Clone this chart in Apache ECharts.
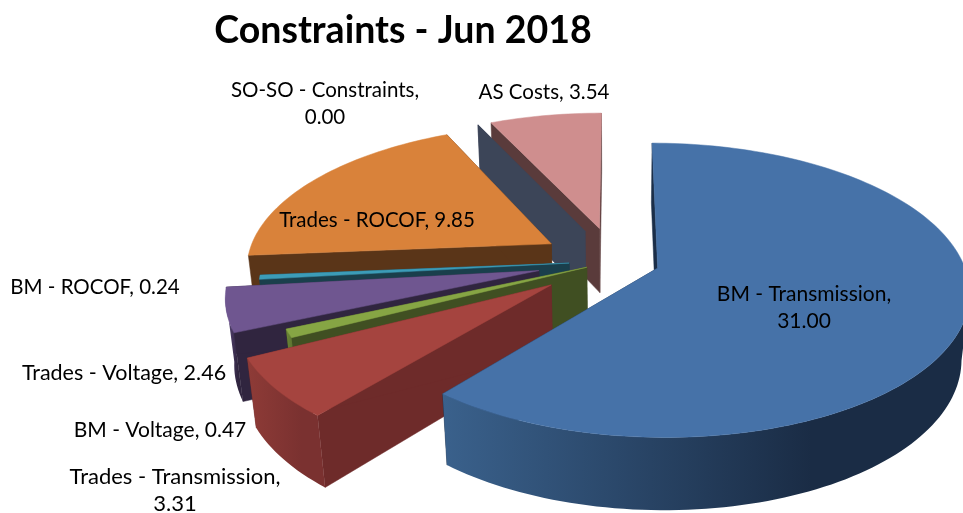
<!DOCTYPE html>
<html><head><meta charset="utf-8">
<style>html,body{margin:0;padding:0;background:#fff}#c{width:963px;height:513px}</style>
<script src="https://cdn.jsdelivr.net/npm/echarts@6/dist/echarts.min.js"></script>
</head><body><div id="c"></div>
<script>
const chartTitle = 'Constraints - Jun 2018';
const categories = ['BM - Transmission','Trades - Transmission','BM - Voltage','Trades - Voltage','BM - ROCOF','Trades - ROCOF','SO-SO - Constraints','AS Costs'];
const values = [31.00,3.31,0.47,2.46,0.24,9.85,0.00,3.54];
const explode = [45,80,31,78,46,75,73,74];
const topColors = ['#4672a8','#a5443f','#86a544','#6f5690','#3c9cb8','#d9823a','#3c4558','#cf8e8e'];
const faceColors = ['#1b2e48','#6e2b2a','#404f22','#30253f','#1a3f4c','#5a3518','#3c4558','#5a3b3b'];
const rimColors = [['#3a618c','#1a2c45'],['#8e3b37','#7a3130'],['#6b8537','#566b2d'],['#5e4a80','#30253f'],['#2a6f85','#1a3f4c'],['#6a401c','#5a3518'],['#3c4558','#3c4558'],['#a87272','#a87272']];
const labelLayout = [
  {x:804,y:308,size:21,t:'BM - Transmission,\n31.00'},
  {x:175,y:490,size:22,t:'Trades - Transmission,\n3.31'},
  {x:160,y:430,size:21},{x:124,y:373,size:21.5},{x:95,y:287,size:20.5},{x:377,y:220,size:20.5},
  {x:325,y:104,size:20.5,t:'SO-SO - Constraints,\n0.00'},{x:544,y:92,size:20.5}];

const CX=615, CY=261, R=305, F=2040, K=0.4645, DROP=67, SINK=46;
function proj(X,Z,h){const d=F/(F+Z+h*SINK);return [CX+X*d, CY+d*(-Z*K+h*DROP)];}
const total=values.reduce((a,b)=>a+b,0);
let acc=0;
const slices=values.map((v,i)=>{const a0=acc/total*2*Math.PI;acc+=v;const a1=acc/total*2*Math.PI;
  const m=(a0+a1)/2;return {i,a0,a1,ex:explode[i]*Math.sin(m),ez:explode[i]*Math.cos(m)};});
const drawOrder=slices.map(s=>s.i).reverse();

function sliceElements(s){
  const pt=(a,h)=>proj(s.ex+R*Math.sin(a),s.ez+R*Math.cos(a),h);
  const ap=h=>proj(s.ex,s.ez,h);
  const n=Math.max(1,Math.ceil((s.a1-s.a0)/(Math.PI/120)));
  const arcT=[],rimT=[],rimB=[];
  for(let j=0;j<=n;j++){
    const a=s.a0+(s.a1-s.a0)*j/n;
    arcT.push(pt(a,0));
    if(Math.cos(a)<-R/F){rimT.push(pt(a,0));rimB.push(pt(a,1));}
  }
  const poly=(pts,fill)=>({type:'polygon',shape:{points:pts},style:{fill,stroke:typeof fill==='string'?fill:null,lineWidth:typeof fill==='string'?0.5:0}});
  const f=faceColors[s.i];
  const els=[];
  els.push(poly([ap(0),pt(s.a0,0),pt(s.a0,1),ap(1)],f));
  els.push(poly([ap(0),pt(s.a1,0),pt(s.a1,1),ap(1)],f));
  if(s.a1>s.a0){
    if(rimT.length>1){
      const rc=rimColors[s.i];
      const grad=new echarts.graphic.LinearGradient(0,0,1,0,[{offset:0,color:rc[0]},{offset:0.7,color:rc[1]},{offset:1,color:rc[1]}]);
      els.push(poly(rimT.concat(rimB.slice().reverse()),grad));
    }
    els.push(poly([ap(0)].concat(arcT),topColors[s.i]));
  }
  return els;
}
const chart=echarts.init(document.getElementById('c'),null,{renderer:'canvas'});
chart.setOption({
  animation:false,
  title:{text:chartTitle,left:398,top:7,textAlign:'center',textStyle:{fontFamily:'Lato',fontWeight:'bold',fontSize:37.5,color:'#000'}},
  series:[
    {type:'custom',coordinateSystem:'none',z:2,silent:true,data:drawOrder.map(i=>[i,values[i]]),
     renderItem:(p,api)=>({type:'group',children:sliceElements(slices[api.value(0)])})},
    {type:'custom',coordinateSystem:'none',z:3,silent:true,data:values.map((v,i)=>[i,v]),
     renderItem:(p,api)=>{const i=api.value(0),l=labelLayout[i];
       return {type:'text',style:{x:l.x,y:l.y,text:l.t||(categories[i]+', '+values[i].toFixed(2)),align:'center',verticalAlign:'middle',fontFamily:'Lato',fontSize:l.size,lineHeight:27,fill:'#000'}};}}
  ]
});
</script></body></html>
